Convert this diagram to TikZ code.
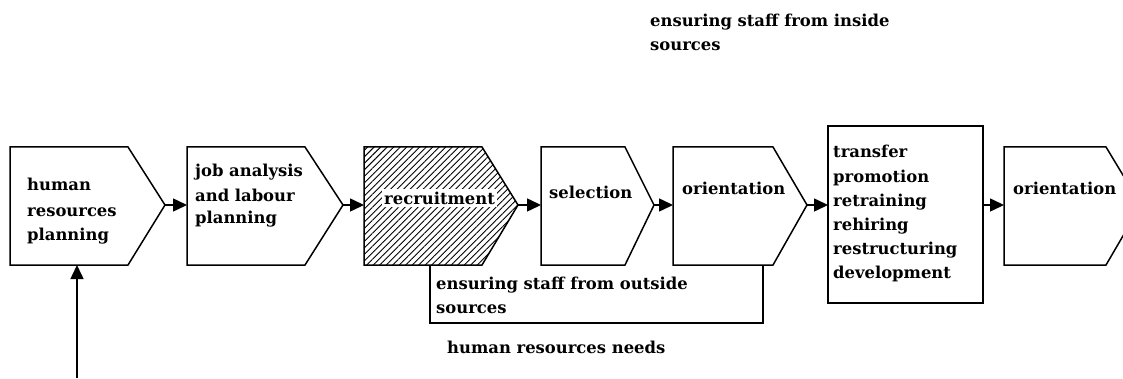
\documentclass[tikz,border=0pt]{standalone}
\usepackage{fontspec}
\setmainfont{DejaVu Serif}
\usetikzlibrary{arrows.meta,patterns.meta}
\newcommand{\pentabox}[5][]{%
  % #2 name, #3 left x, #4 flat-end x, #5 tip x
  \draw[boxline,#1] (#3,231) -- (#4,231) -- (#5,173) -- (#4,113) -- (#3,113) -- cycle;
  \coordinate (#2-w) at (#3,173);
  \coordinate (#2-e) at (#5,173);
}
\begin{document}
\begin{tikzpicture}[x=1pt,y=1pt,
  boxline/.style={line width=1.5pt,line join=miter},
  conn/.style={line width=1.5pt,-{Triangle[length=14pt,width=13pt]}},
  hatch/.style={pattern={Lines[angle=45,distance=4.6pt,line width=0.9pt]}},
  lbl/.style={anchor=base west,inner sep=0pt,font=\fontsize{16.4}{18}\selectfont\bfseries}]
\useasboundingbox (0,0) rectangle (1123,378);
\begin{scope}
\clip (0,0) rectangle (1123,378);
\pentabox{b1}{10}{128}{165}
\pentabox{b2}{187}{305}{343}
\pentabox[hatch]{b3}{364}{482}{518}
\pentabox{b4}{541}{625}{654}
\pentabox{b5}{673}{773}{807}
\draw[boxline] (828,75) rectangle (983,252);
\coordinate (b6-w) at (828,173);
\coordinate (b6-e) at (983,173);
\pentabox{b7}{1004}{1106}{1141}
\end{scope}
% texts
\node[lbl] (t1a) at (27,188) {human};
\node[lbl] (t1b) at (27,162) {resources};
\node[lbl] (t1c) at (27,138) {planning};
\node[lbl] (t2a) at (195,201) {job analysis};
\node[lbl] (t2b) at (195,177) {and labour};
\node[lbl] (t2c) at (195,155) {planning};
\node[lbl,fill=white,inner xsep=2pt,inner ysep=3pt] (t3) at (382,174) {recruitment};
\node[lbl] (t4) at (549,180) {selection};
\node[lbl] (t5) at (682,184) {orientation};
\node[lbl] (t6a) at (833,220) {transfer};
\node[lbl] (t6b) at (833,196) {promotion};
\node[lbl] (t6c) at (833,172) {retraining};
\node[lbl] (t6d) at (833,148) {rehiring};
\node[lbl] (t6e) at (833,124) {restructuring};
\node[lbl] (t6f) at (833,100) {development};
\node[lbl] (t7) at (1013,184) {orientation};
\node[lbl] (o1) at (436,89) {ensuring staff from outside};
\node[lbl] (o2) at (436,65) {sources};
\node[lbl] (n1) at (447,25) {human resources needs};
\node[lbl] (i1) at (650,351) {ensuring staff from inside};
\node[lbl] (i2) at (650,327) {sources};
% connectors
\draw[conn] (b1-e) -- (b2-w);
\draw[conn] (b2-e) -- (b3-w);
\draw[conn] (b3-e) -- (b4-w);
\draw[conn] (b4-e) -- (b5-w);
\draw[conn] (b5-e) -- (b6-w);
\draw[conn] (b6-e) -- (b7-w);
\coordinate (src) at (77,0);
\coordinate (b1-s) at (77,113);
\draw[conn] (src) -- (b1-s);
\coordinate (r-s) at (430,113);
\coordinate (o-s) at (763,113);
\draw[boxline] (r-s) -- (430,55) -- (763,55) -- (o-s);
\end{tikzpicture}
\end{document}
